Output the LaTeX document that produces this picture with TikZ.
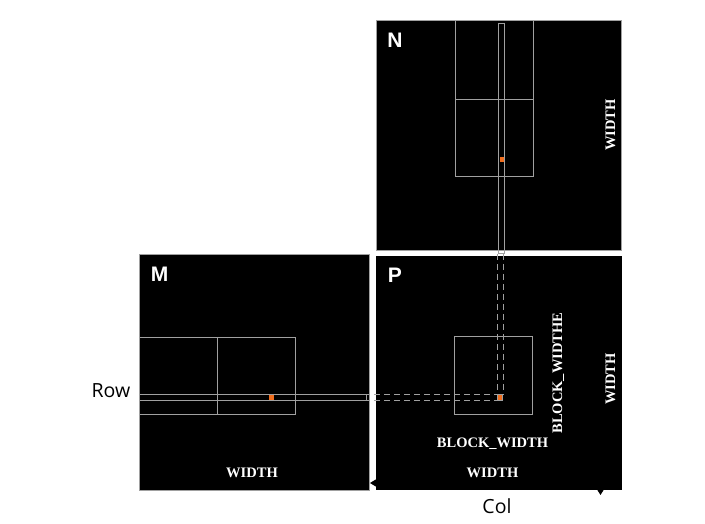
\documentclass[tikz,border=0pt]{standalone}
\usepackage{fontspec}
\setmainfont{Liberation Serif}
\newfontfamily\arialfont{Liberation Sans}
\newfontfamily\axisfont{Open Sans}
\usetikzlibrary{arrows.meta}
\definecolor{gridgray}{RGB}{160,160,160}
\definecolor{cellorange}{RGB}{240,110,30}
\begin{document}
\begin{tikzpicture}[x=1pt,y=-1pt,
  gridline/.style={draw=gridgray,line width=1pt},
  dashline/.style={draw=gridgray,line width=1pt,dash pattern=on 6pt off 4pt},
  matlabel/.style={text=white,font=\arialfont\bfseries\fontsize{21}{23}\selectfont,anchor=base,inner sep=0pt},
  dimlabel/.style={text=white,font=\bfseries\fontsize{14.5}{16}\selectfont,anchor=base,inner sep=0pt},
  axislabel/.style={text=black,font=\axisfont\fontsize{19.5}{21}\selectfont,inner sep=0pt},
  hiddenarrow/.style={draw=black,line width=1pt}
]
\fill[white] (0,0) rectangle (705,524);
\useasboundingbox (0,0) rectangle (705,524);

% P matrix
\fill[black] (376,256) rectangle (622,490);
% N matrix
\filldraw[gridline,fill=black] (376.5,20.5) rectangle (621.5,251);
% M matrix
\filldraw[gridline,fill=black] (139,255) rectangle (369,490);

% N blocks and column strip
\draw[gridline] (455.7,20.5) rectangle (533.3,99.3);
\draw[gridline] (455.7,99.3) rectangle (533.3,176.7);
\draw[gridline] (498.3,23.3) rectangle (504.3,253.3);
\fill[cellorange] (499.5,157.5) rectangle (503.7,162);

% M blocks and row strip
\draw[gridline] (139,337.3) rectangle (217.7,414);
\draw[gridline] (217.7,337.3) rectangle (295.7,414);
\draw[gridline] (139,394.3) rectangle (366,400.3);
\draw[gridline] (366,394.3) -- (369,394.3) (366,400.3) -- (369,400.3);
\fill[cellorange] (268.5,395) rectangle (274.3,400);

% P block, projection lines and cell
\draw[gridline] (454.3,336.3) rectangle (532.7,414.3);
\coordinate (rowstart) at (374,394.5);
\coordinate (rowstartb) at (374,400.2);
\coordinate (colstart) at (497.7,254);
\coordinate (colstartb) at (503.7,254);
\draw[dashline] (rowstart) -- (497.3,394.5);
\draw[dashline] (rowstartb) -- (497.3,400.2);
\draw[dashline] (colstart) -- (497.7,394.3);
\draw[dashline] (colstartb) -- (503.7,394.3);
\filldraw[fill=cellorange,draw=gridgray,line width=1pt] (497.3,394.3) rectangle (502.8,400);

% hidden black arrows (only heads visible)
\coordinate (arrA) at (600,483);
\coordinate (arrAend) at (370,483);
\coordinate (arrB) at (600.5,300);
\coordinate (arrBend) at (600.5,495);
\draw[hiddenarrow,-{Triangle[length=6pt,width=7pt]}] (arrA) -- (arrAend);
\draw[hiddenarrow,-{Triangle[length=5pt,width=6pt]}] (arrB) -- (arrBend);

% labels
\node[matlabel] (lN) at (395,48) {N};
\node[matlabel] (lM) at (159.5,282) {M};
\node[matlabel] (lP) at (395,283) {P};

\node[dimlabel,rotate=90] (wN) at (615,125) {WIDTH};
\node[dimlabel] (wM) at (252,477) {WIDTH};
\node[dimlabel] (bw) at (492.5,447.5) {BLOCK\_WIDTH};
\node[dimlabel,rotate=90] (bwe) at (562,373) {BLOCK\_WIDTHE};
\node[dimlabel,rotate=90] (wP) at (615,379) {WIDTH};
\node[dimlabel] (wPb) at (492.5,477) {WIDTH};

\node[axislabel] (row) at (111,391) {Row};
\node[axislabel] (col) at (497,506) {Col};
\end{tikzpicture}
\end{document}
